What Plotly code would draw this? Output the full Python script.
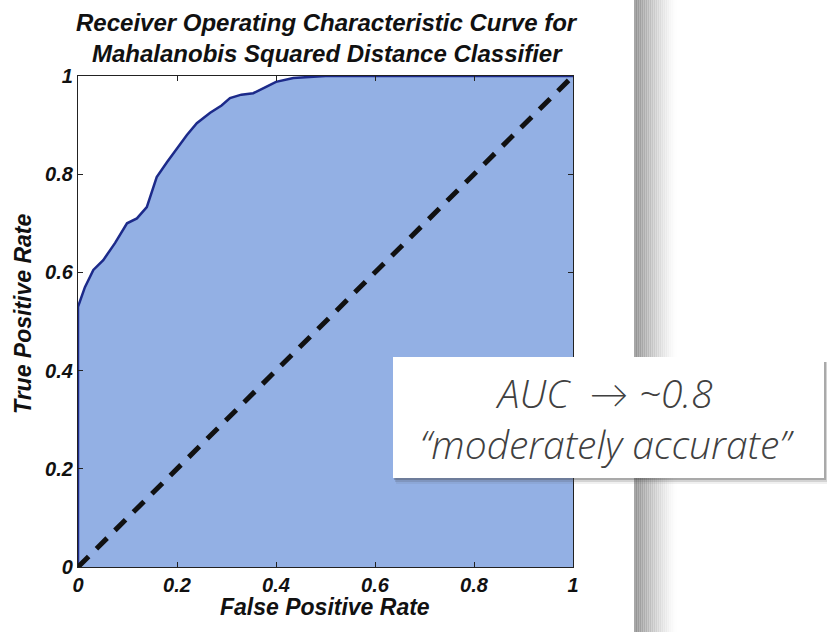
import plotly.graph_objects as go

# ROC curve points
fpr = [0.0, 0.0, 0.0, 0.014, 0.031, 0.051, 0.075, 0.099, 0.119, 0.139, 0.159, 0.18, 0.2,
       0.22, 0.24, 0.267, 0.29, 0.307, 0.33, 0.354, 0.38, 0.40, 0.435, 0.47, 0.50, 0.55, 0.60, 0.70, 0.80, 0.90, 1.0]
tpr = [0.0, 0.30, 0.53, 0.57, 0.605, 0.625, 0.66, 0.70, 0.71, 0.733, 0.794, 0.825, 0.853,
       0.88, 0.904, 0.925, 0.94, 0.955, 0.962, 0.965, 0.978, 0.988, 0.996, 0.998, 1.0, 1.0, 1.0, 1.0, 1.0, 1.0, 1.0]
chance = [0.0, 1.0]

tick_vals = [0, 0.2, 0.4, 0.6, 0.8, 1]
tick_text = ["0", "0.2", "0.4", "0.6", "0.8", "1"]

title_line1 = "Receiver Operating Characteristic Curve for"
title_line2 = "Mahalanobis Squared Distance Classifier"
x_title = "False Positive Rate"
y_title = "True Positive Rate"
note_line1 = "AUC  \u2192 ~0.8"
note_line2 = "\u201cmoderately accurate\u201d"

W, H = 827, 632
L, R, T, B = 78, 254, 76, 65
pw = W - L - R
ph = H - T - B


def px_x(px):
    return (px - L) / pw


def px_y(py):
    return (H - B - py) / ph


fig = go.Figure()
fig.add_trace(go.Scatter(x=fpr, y=tpr, mode="lines", fill="tozeroy",
                         fillcolor="rgb(147,176,228)",
                         line=dict(color="#1c2a8a", width=2.5), hoverinfo="skip"))
fig.add_trace(go.Scatter(x=chance, y=chance, mode="lines",
                         line=dict(color="#111111", width=5, dash="15px,11px"), hoverinfo="skip"))

BOLD_IT = dict(family="Liberation Sans, Arial", color="#111111", weight="bold", style="italic")
tick_font = dict(BOLD_IT, size=20)

axis_common = dict(range=[0, 1], tickvals=tick_vals, ticktext=tick_text, ticks="inside", ticklen=5,
                   tickcolor="#222", showline=True, linecolor="#222", linewidth=1.2, mirror="ticks",
                   showgrid=False, zeroline=False, tickfont=tick_font, automargin=False)

fig.update_layout(
    width=W, height=H,
    margin=dict(l=L, r=R, t=T, b=B),
    paper_bgcolor="white", plot_bgcolor="white",
    showlegend=False,
    xaxis=dict(axis_common),
    yaxis=dict(axis_common),
)

shapes = []
# gray vertical bar with gradient (left dark -> right white)
bar_left, bar_right = 634, 676
n = 21
step = (bar_right - bar_left) / n
for i in range(n):
    a = 0.50 * (1 - i / n) ** 1.4
    shapes.append(dict(type="rect", xref="paper", yref="paper", layer="below",
                       x0=px_x(bar_left + i * step), x1=px_x(bar_left + (i + 1) * step + 0.5),
                       y0=px_y(H), y1=px_y(0),
                       line=dict(width=0), fillcolor=f"rgba(80,80,80,{a:.3f})"))
# shadow of note box
for k, a in enumerate([0.28, 0.16, 0.08]):
    shapes.append(dict(type="rect", xref="paper", yref="paper", layer="above",
                       x0=px_x(394 + k), x1=px_x(826 + k),
                       y0=px_y(480 + k * 2), y1=px_y(362),
                       line=dict(width=0), fillcolor=f"rgba(60,60,60,{a})"))
# note box
shapes.append(dict(type="rect", xref="paper", yref="paper", layer="above",
                   x0=px_x(393), x1=px_x(824),
                   y0=px_y(478), y1=px_y(357),
                   line=dict(width=0), fillcolor="white"))
fig.update_layout(shapes=shapes)

# title lines
title_font = dict(BOLD_IT, size=24)
fig.add_annotation(xref="paper", yref="paper", x=px_x(327), y=px_y(23), text=title_line1,
                   showarrow=False, font=title_font, xanchor="center", yanchor="middle")
fig.add_annotation(xref="paper", yref="paper", x=px_x(327), y=px_y(54), text=title_line2,
                   showarrow=False, font=title_font, xanchor="center", yanchor="middle")

# axis titles
label_font = dict(BOLD_IT, size=23)
fig.add_annotation(xref="paper", yref="paper", x=px_x(325), y=px_y(607), text=x_title,
                   showarrow=False, font=label_font, xanchor="center", yanchor="middle")
fig.add_annotation(xref="paper", yref="paper", x=px_x(23), y=px_y(314), text=y_title,
                   showarrow=False, font=label_font, xanchor="center", yanchor="middle", textangle=-90)

# note text (two lines in one annotation)
note_font = dict(family="Open Sans, Lato", size=39, color="#404040", style="italic", weight=300)
fig.add_annotation(xref="paper", yref="paper", x=px_x(607), y=px_y(418),
                   text=note_line1 + "<br>" + note_line2, showarrow=False, font=note_font,
                   xanchor="center", yanchor="middle", align="center")

fig.write_html("out.html", config={"displayModeBar": False},
               post_script="document.body.style.margin='0';document.body.style.overflow='hidden';")
